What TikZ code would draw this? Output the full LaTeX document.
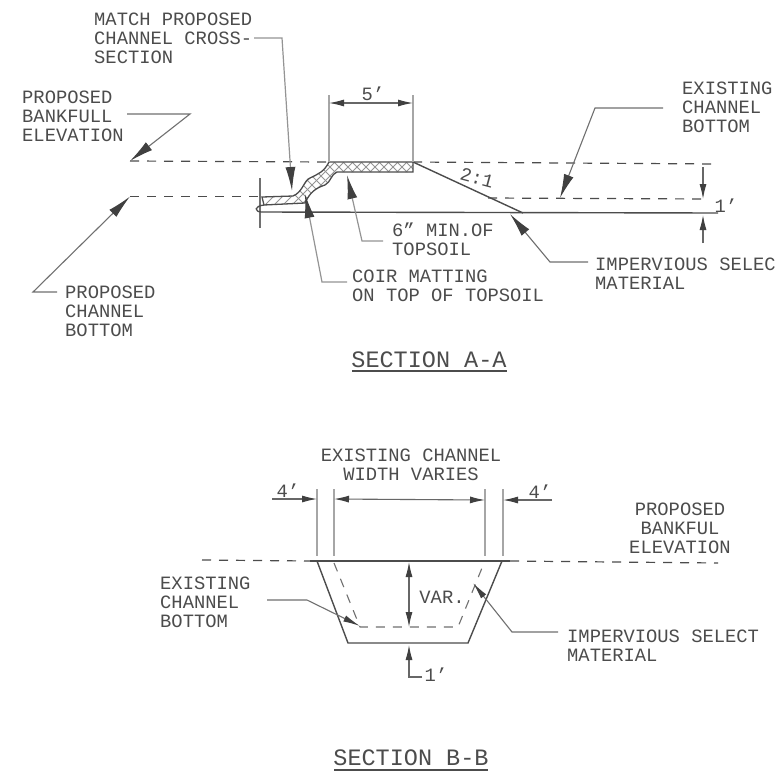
\documentclass[tikz,border=0pt]{standalone}
\usepackage{fontspec}
\setmainfont{Liberation Mono}
\usetikzlibrary{arrows.meta}
\definecolor{ink}{gray}{0.3}
\definecolor{headc}{gray}{0.25}
\tikzset{
 x=1pt,y=-1pt,
 lbl/.style={font=\fontsize{18.8}{18.7}\selectfont,text=ink,align=left,inner sep=0pt,anchor=north west},
 lblc/.style={lbl,align=center,anchor=north},
 one/.style={font=\fontsize{18.8}{18.7}\selectfont,text=ink,inner sep=0pt},
 ttl/.style={font=\fontsize{23.5}{24}\selectfont,text=ink,inner sep=0pt},
 line/.style={draw=ink,line width=1.4pt},
 ext/.style={draw=ink!50,line width=1.6pt},
 dash line/.style={draw=ink,line width=1.2pt,dash pattern=on 9pt off 8pt},
 lead/.style={draw=ink!80,line width=1.1pt,-{Latex[length=24pt,width=10pt,color=headc]}},
 leadl/.style={draw=ink!60,line width=1.2pt,-{Latex[length=24pt,width=10pt,color=headc]}},
 leadb/.style={draw=ink!80,line width=1.1pt,-{Latex[length=17pt,width=6.5pt,color=headc]}},
 dim/.style={draw=ink!85,line width=1.1pt,{Latex[length=15pt,width=7pt,color=headc]}-{Latex[length=15pt,width=7pt,color=headc]}},
 dimone/.style={draw=ink!85,line width=1.1pt,-{Latex[length=15pt,width=7pt,color=headc]}},
}
\begin{document}
\begin{tikzpicture}
\useasboundingbox (0,0) rectangle (775,774);
\fill[white] (0,0) rectangle (775,774);
% labels
\node[lbl] (match) at (94,13) {MATCH PROPOSED\\CHANNEL CROSS-\\SECTION};
\node[lbl] (bankfull) at (22,91) {PROPOSED\\BANKFULL\\ELEVATION};
\node[lbl] (exist) at (682,82) {EXISTING\\CHANNEL\\BOTTOM};
\node[lbl] (topsoil) at (392,223) {6" MIN.OF\\TOPSOIL};
\node[lbl] (coir) at (352,270) {COIR MATTING\\ON TOP OF TOPSOIL};
\node[lbl] (imperv) at (595,258) {IMPERVIOUS SELECT\\MATERIAL};
\node[lbl] (pbottom) at (65,286) {PROPOSED\\CHANNEL\\BOTTOM};
\node[ttl] (secA) at (429,360) {SECTION A-A};
\draw[ink,line width=1.3pt] (352,371) -- (507,371);
\node[lblc] (width) at (411,449) {EXISTING CHANNEL\\WIDTH VARIES};
\node[lblc] (bankB) at (680,503) {PROPOSED\\BANKFUL\\ELEVATION};
\node[lbl] (existB) at (160,577) {EXISTING\\CHANNEL\\BOTTOM};
\node[lbl] (impervB) at (567,630) {IMPERVIOUS SELECT\\MATERIAL};
\node[ttl] (secB) at (411,758) {SECTION B-B};
\draw[ink,line width=1.3pt] (334,770) -- (488,770);
\node[one] (five) at (373,94) {5'};
\node[one,rotate=-15] (slope) at (477,178) {2:1};
\node[one] (oneA) at (726,206) {1'};
\node[one] (fourL) at (288,491) {4'};
\node[one] (fourR) at (540,492) {4'};
\node[one] (var) at (442,597) {VAR.};
\node[one] (oneB) at (436,675) {1'};
% Section A geometry
\coordinate (tl) at (329,162);
\coordinate (tr) at (413,162);
\coordinate (toe) at (523,213);
\coordinate (dtl) at (130,161);
\coordinate (dtr) at (718,164);
\coordinate (dbl) at (130,196.5);
\coordinate (dbm) at (262,196.5);
\coordinate (dbr0) at (488,198);
\coordinate (dbr) at (707,199);
\coordinate (bl) at (262,212);
\coordinate (br) at (718,213);
\draw[dash line] (dtl) -- (tl);
\draw[dash line] (tr) -- (dtr);
\draw[dash line] (dbl) -- (dbm);
\draw[dash line] (dbr0) -- (dbr);
\draw[line] (bl) -- (br);
\draw[line] (tr) -- (toe);
\draw[draw=ink!80,line width=1.2pt] (260,178) -- (260,228);
% coir matting band
\def\bandpath{(262,197) -- (293,196) .. controls (303,192) and (304,180) .. (310,178)
 .. controls (318,174) and (324,172) .. (329,162) -- (tr) -- (413,172) -- (337,172)
 .. controls (331,174) and (331,182) .. (325,185) .. controls (316,188) and (310,192) .. (305,203)
 -- (264,205) -- cycle}
\begin{scope}
\clip \bandpath;
\foreach \k in {0,9,...,240}{
 \draw[ink!60,line width=1pt] (250+\k,150) -- (250+\k+70,220);
 \draw[ink!60,line width=1pt] (250+\k,220) -- (250+\k+70,150);
}
\end{scope}
\draw[ink,line width=1.3pt] \bandpath;
\draw[ink,line width=1.3pt] (264,205) .. controls (254,206) and (254,212) .. (bl);
% 5' dimension
\coordinate (d5l) at (329,103);
\coordinate (d5r) at (413,103);
\coordinate (e5l) at (329,95);
\coordinate (e5r) at (413,95);
\draw[ext] (tl) -- (e5l);
\draw[ext] (tr) -- (e5r);
\draw[dim] (d5l) -- (d5r);
% leaders, section A
\coordinate (m0) at (254,38); \coordinate (m1) at (282,38); \coordinate (m2) at (292,191);
\draw[leadl] (m0) -- (m1) -- (m2);
\coordinate (b0) at (127,114); \coordinate (b1) at (190,114);
\draw[lead] (b0) -- (b1) -- (dtl);
\coordinate (p0) at (57,292); \coordinate (p1) at (33,292);
\draw[lead] (p0) -- (p1) -- (dbl);
\coordinate (c0) at (347,282); \coordinate (c1) at (322,282); \coordinate (c2) at (305,194);
\draw[leadl] (c0) -- (c1) -- (c2);
\coordinate (t0) at (383,241); \coordinate (t1) at (362,241); \coordinate (t2) at (347,175);
\draw[leadl] (t0) -- (t1) -- (t2);
\coordinate (i0) at (588,262); \coordinate (i1) at (550,262); \coordinate (i2) at (510,214);
\draw[lead] (i0) -- (i1) -- (i2);
\coordinate (x0) at (663,108); \coordinate (x1) at (595,108); \coordinate (x2) at (560,198);
\draw[lead] (x0) -- (x1) -- (x2);
% 1' dimension, section A
\coordinate (o0) at (703,167); \coordinate (o1) at (703,199);
\coordinate (o2) at (703,243); \coordinate (o3) at (703,215);
\draw[dimone] (o0) -- (o1);
\draw[dimone] (o2) -- (o3);
% Section B geometry
\coordinate (bdl) at (202,560); \coordinate (bsl) at (310,561);
\coordinate (bsr) at (510,561); \coordinate (bdr) at (718,563);
\draw[dash line] (bdl) -- (bsl);
\draw[line] (bsl) -- (bsr);
\draw[dash line] (bsr) -- (bdr);
\coordinate (q1) at (317,561); \coordinate (q2) at (348,643);
\coordinate (q3) at (468,643); \coordinate (q4) at (502,561);
\draw[line] (q1) -- (q2) -- (q3) -- (q4);
\coordinate (h1) at (334,563); \coordinate (h2) at (360,627);
\coordinate (h3) at (458,627); \coordinate (h4) at (484,563);
\draw[dash line,draw=ink!80,line width=1.1pt] (h1) -- (h2) -- (h3) -- (h4);
% extension lines and widths
\foreach \n/\xx in {a/317,b/334,c/485,d/503}{
 \coordinate (g\n) at (\xx,489);
 \coordinate (k\n) at (\xx,556);
 \draw[ext] (g\n) -- (k\n);
}
\coordinate (wl0) at (272,499); \coordinate (wl1) at (317,499);
\coordinate (wm0) at (334,499); \coordinate (wm1) at (485,500);
\coordinate (wr0) at (552,500); \coordinate (wr1) at (503,500);
\draw[dimone] (wl0) -- (wl1);
\draw[dim] (wm0) -- (wm1);
\draw[dimone] (wr0) -- (wr1);
% VAR dimension
\coordinate (v0) at (409,562); \coordinate (v1) at (409,627);
\draw[dim] (v0) -- (v1);
% 1' dimension, section B
\coordinate (n0) at (422,677); \coordinate (n1) at (409,677); \coordinate (n2) at (409,645);
\draw[dimone] (n0) -- (n1) -- (n2);
% leaders, section B
\coordinate (eb0) at (267,600); \coordinate (eb1) at (307,600); \coordinate (eb2) at (360,626);
\draw[leadb] (eb0) -- (eb1) -- (eb2);
\coordinate (ib0) at (558,632); \coordinate (ib1) at (512,632); \coordinate (ib2) at (473,583);
\draw[leadb] (ib0) -- (ib1) -- (ib2);
\end{tikzpicture}
\end{document}
